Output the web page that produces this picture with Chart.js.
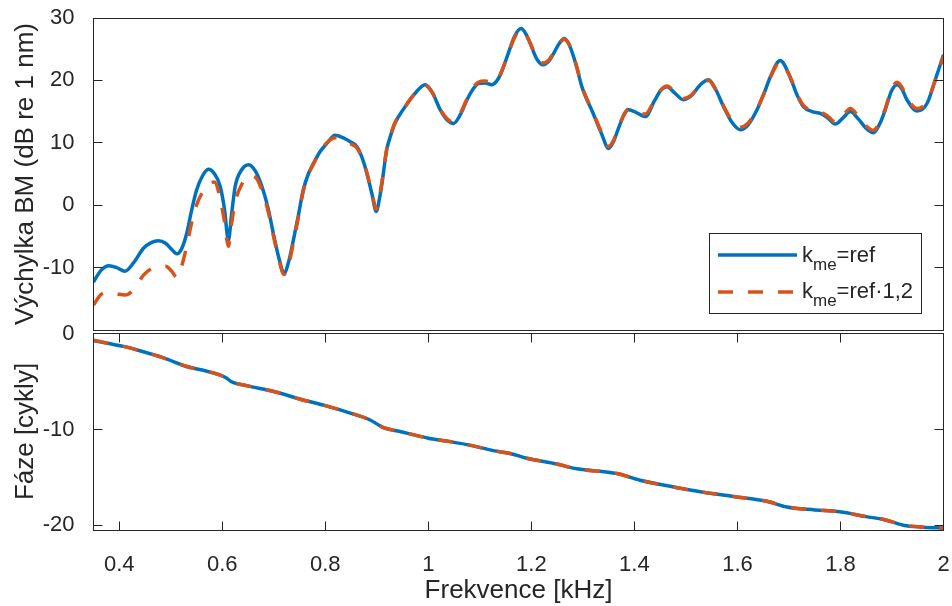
<!DOCTYPE html>
<html>
<head>
<meta charset="utf-8">
<title>Výchylka a fáze BM</title>
<script src="https://cdn.jsdelivr.net/npm/chart.js@4.4.1/dist/chart.umd.min.js"></script>
<style>
  body { margin: 0; background: #fff; }
  #wrap { position: relative; width: 952px; height: 606px; }
  #wrap canvas { position: absolute; left: 0; }
</style>
</head>
<body>
<div id="wrap">
  <canvas id="magChart" width="952" height="332" style="top:0px"></canvas>
  <canvas id="phaseChart" width="952" height="296" style="top:310px"></canvas>
</div>
<script>
// frequency axis [kHz]
const freqMag = [
  0.350, 0.365, 0.380, 0.395, 0.411, 0.428, 0.447, 0.462, 0.476, 0.490,
  0.502, 0.512, 0.521, 0.531, 0.540, 0.550, 0.561, 0.573, 0.585, 0.596,
  0.604, 0.612, 0.618, 0.625, 0.637, 0.651, 0.664, 0.677, 0.689, 0.699,
  0.710, 0.720, 0.729, 0.738, 0.748, 0.757, 0.767, 0.777, 0.790, 0.803,
  0.819, 0.835, 0.850, 0.861, 0.871, 0.880, 0.890, 0.899, 0.905, 0.910,
  0.919, 0.927, 0.935, 0.955, 0.974, 0.994, 1.008, 1.023, 1.036, 1.049,
  1.062, 1.075, 1.086, 1.097, 1.110, 1.123, 1.136, 1.145, 1.155, 1.167,
  1.180, 1.189, 1.198, 1.210, 1.223, 1.233, 1.243, 1.254, 1.264, 1.273,
  1.282, 1.290, 1.298, 1.320, 1.336, 1.350, 1.360, 1.369, 1.380, 1.388,
  1.400, 1.421, 1.440, 1.452, 1.463, 1.478, 1.495, 1.510, 1.528, 1.544,
  1.558, 1.573, 1.590, 1.605, 1.620, 1.638, 1.652, 1.664, 1.683, 1.702,
  1.715, 1.728, 1.745, 1.761, 1.775, 1.790, 1.805, 1.819, 1.835, 1.850,
  1.864, 1.876, 1.887, 1.899, 1.910, 1.920, 1.929, 1.949, 1.968, 1.984,
  2.000
];

// BM displacement [dB re 1 nm], k_me = ref
const magRef = [
  -12.3, -10.4, -9.7, -10.0, -10.6, -9.2, -6.9, -6.0, -5.7, -6.1,
  -7.1, -7.8, -7.0, -4.5, -1.0, 2.4, 4.6, 5.75, 5.0, 3.0,
  -0.5, -5.6, -1.5, 3.0, 5.6, 6.5, 5.5, 3.0, -0.5, -4.5,
  -8.5, -10.9, -9.0, -5.6, -1.5, 2.4, 5.0, 6.7, 8.6, 9.9,
  11.2, 10.8, 10.1, 9.4, 7.7, 5.3, 2.0, -1.0, 1.0, 3.5,
  8.8, 11.2, 13.1, 15.8, 17.9, 19.3, 18.0, 15.3, 13.7, 13.1,
  14.5, 16.9, 18.5, 19.5, 19.6, 19.3, 20.3, 22.0, 24.3, 27.0,
  28.3, 27.5, 25.9, 23.5, 22.5, 23.0, 24.3, 25.9, 26.7, 25.8,
  23.8, 21.5, 19.0, 14.7, 11.5, 9.1, 10.3, 12.3, 14.5, 15.3,
  15.0, 14.2, 16.9, 18.5, 19.0, 18.0, 16.9, 17.5, 19.3, 20.1,
  18.5, 15.8, 13.2, 12.1, 12.8, 15.3, 18.0, 20.6, 23.2, 20.6,
  17.8, 15.8, 15.0, 14.7, 14.0, 13.0, 14.0, 15.0, 13.8, 12.3,
  11.6, 13.0, 15.3, 18.3, 19.3, 18.5, 16.9, 15.1, 16.3, 20.1,
  24.1
];

// BM displacement [dB re 1 nm], k_me = ref*1.2
const magScaled = [
  -16.0, -14.3, -14.0, -14.2, -14.4, -13.5, -11.2, -10.2, -9.8, -9.8,
  -10.6, -11.6, -9.8, -6.5, -3.0, 0.0, 2.0, 3.4, 3.7, 1.0,
  -2.5, -6.6, -3.0, 0.5, 3.2, 4.7, 4.5, 2.4, -1.0, -4.8,
  -8.8, -11.1, -9.5, -6.0, -1.8, 2.2, 4.9, 6.6, 8.6, 10.0,
  10.8, 10.4, 9.8, 9.2, 7.6, 5.4, 2.2, -0.6, 1.3, 3.8,
  8.9, 11.3, 13.2, 15.8, 17.9, 19.2, 18.0, 15.4, 13.9, 13.3,
  14.7, 17.0, 18.7, 19.7, 19.9, 19.7, 20.4, 22.0, 24.2, 26.8,
  28.1, 27.4, 25.9, 23.7, 22.8, 23.2, 24.4, 25.9, 26.6, 25.8,
  23.9, 21.6, 19.1, 14.8, 11.7, 9.4, 10.5, 12.4, 14.6, 15.4,
  15.2, 14.6, 17.0, 18.5, 19.1, 18.2, 17.1, 17.6, 19.3, 20.0,
  18.5, 15.9, 13.5, 12.5, 13.1, 15.4, 18.0, 20.5, 23.0, 20.6,
  17.9, 16.0, 15.2, 14.9, 14.3, 13.3, 14.4, 15.5, 14.2, 12.7,
  12.0, 13.3, 15.5, 18.6, 19.7, 18.8, 17.2, 15.5, 16.6, 20.0,
  23.9
];

// phase [cycles]
const freqPhase = [
  0.350, 0.380, 0.408, 0.440, 0.486, 0.531, 0.570, 0.596, 0.608, 0.618,
  0.647, 0.706, 0.750, 0.800, 0.850, 0.887, 0.913, 0.945, 1.000, 1.036,
  1.087, 1.126, 1.159, 1.191, 1.249, 1.288, 1.366, 1.411, 1.476, 1.528,
  1.592, 1.657, 1.696, 1.750, 1.799, 1.850, 1.884, 1.922, 1.960, 2.000
];
const phaseRef = [
  -0.7, -1.0, -1.3, -1.75, -2.5, -3.4, -3.9, -4.3, -4.6, -5.0,
  -5.4, -6.1, -6.8, -7.5, -8.3, -9.0, -9.8, -10.2, -10.9, -11.2,
  -11.7, -12.2, -12.5, -13.0, -13.6, -14.1, -14.6, -15.3, -16.0, -16.5,
  -17.0, -17.5, -18.1, -18.4, -18.6, -19.1, -19.4, -20.0, -20.2, -20.3
];
const phaseScaled = [
  -0.65, -1.0, -1.3, -1.75, -2.5, -3.4, -3.9, -4.3, -4.65, -5.0,
  -5.4, -6.1, -6.8, -7.5, -8.3, -9.0, -9.8, -10.2, -10.9, -11.2,
  -11.7, -12.2, -12.5, -13.0, -13.6, -14.1, -14.6, -15.3, -16.0, -16.5,
  -17.0, -17.5, -18.1, -18.4, -18.6, -19.1, -19.4, -20.0, -20.2, -20.3
];

const freqTicks = [0.4, 0.6, 0.8, 1, 1.2, 1.4, 1.6, 1.8, 2];
const magTicks = [-10, 0, 10, 20, 30];
const phaseTicks = [-20, -10, 0];

const legendParts = [['k', 'me', '=ref'], ['k', 'me', '=ref\u00b71,2']];

const BLUE = '#0072BD';
const ORANGE = '#D95319';
const AXIS = '#262626';
const TICK_LEN = 9;
const FONT = '"Liberation Sans", Arial, Helvetica, sans-serif';

Chart.defaults.font.family = FONT;
Chart.defaults.color = AXIS;

function pairs(xs, ys) {
  return xs.map((x, i) => ({ x: x, y: ys[i] }));
}

function fixTicks(values) {
  return scale => { scale.ticks = values.map(v => ({ value: v })); };
}

// fixed axis box size, no extra room for overhanging labels
function fixSize(dim, size) {
  return scale => {
    scale[dim] = size;
    scale.paddingTop = scale.paddingBottom = scale.paddingLeft = scale.paddingRight = 0;
  };
}

const crisp = v => Math.floor(v) + 0.5;

// box around the plot area with inward tick marks
function axesFrame(withX) {
  return {
    id: 'axesFrame',
    afterDraw(chart) {
      const { ctx, chartArea: a, scales } = chart;
      const l = crisp(a.left), r = crisp(a.right), t = crisp(a.top), b = crisp(a.bottom);
      ctx.save();
      ctx.strokeStyle = AXIS;
      ctx.lineWidth = 1;
      ctx.strokeRect(l, t, r - l, b - t);
      ctx.beginPath();
      scales.y.ticks.forEach(tk => {
        const py = crisp(scales.y.getPixelForValue(tk.value));
        ctx.moveTo(l, py); ctx.lineTo(l + TICK_LEN, py);
        ctx.moveTo(r, py); ctx.lineTo(r - TICK_LEN, py);
      });
      if (withX) {
        scales.x.ticks.forEach(tk => {
          const px = crisp(scales.x.getPixelForValue(tk.value));
          ctx.moveTo(px, b); ctx.lineTo(px, b - TICK_LEN);
          ctx.moveTo(px, t); ctx.lineTo(px, t + TICK_LEN);
        });
      }
      ctx.stroke();
      ctx.restore();
    }
  };
}

// legend with subscripted labels
const legendBox = {
  id: 'legendBox',
  afterDraw(chart) {
    const { ctx } = chart;
    const bx = 709.5, by = 233.5, bw = 212, bh = 80;
    const rows = [
      { ds: chart.data.datasets[1], y: 255, base: 262, parts: legendParts[0] },
      { ds: chart.data.datasets[0], y: 292, base: 298, parts: legendParts[1] }
    ];
    ctx.save();
    ctx.fillStyle = '#fff';
    ctx.fillRect(bx, by, bw, bh);
    ctx.strokeStyle = AXIS;
    ctx.lineWidth = 1;
    ctx.strokeRect(bx, by, bw, bh);
    rows.forEach(row => {
      ctx.beginPath();
      ctx.strokeStyle = row.ds.borderColor;
      ctx.lineWidth = 3.5;
      ctx.setLineDash(row.ds.borderDash || []);
      ctx.moveTo(718, row.y);
      ctx.lineTo(797, row.y);
      ctx.stroke();
      ctx.setLineDash([]);
      ctx.fillStyle = AXIS;
      ctx.textBaseline = 'alphabetic';
      let x = 802;
      ctx.font = '22px ' + FONT;
      ctx.fillText(row.parts[0], x, row.base);
      x += ctx.measureText(row.parts[0]).width;
      ctx.font = '17px ' + FONT;
      ctx.fillText(row.parts[1], x, row.base + 8);
      x += ctx.measureText(row.parts[1]).width;
      ctx.font = '22px ' + FONT;
      ctx.fillText(row.parts[2], x, row.base);
    });
    ctx.restore();
  }
};

const lineStyle = {
  point: { radius: 0 },
  line: { borderWidth: 3.5, cubicInterpolationMode: 'monotone', borderJoinStyle: 'round' }
};

const yTicks = { padding: 11, font: { size: 22 }, callback: v => String(v) };

new Chart(document.getElementById('magChart'), {
  type: 'line',
  data: {
    datasets: [
      { label: 'kme=ref\u00b71,2', data: pairs(freqMag, magScaled), borderColor: ORANGE, borderDash: [15, 15], order: 0 },
      { label: 'kme=ref', data: pairs(freqMag, magRef), borderColor: BLUE, order: 1 }
    ]
  },
  options: {
    responsive: false,
    animation: false,
    devicePixelRatio: 1,
    elements: lineStyle,
    layout: { padding: { top: 18, right: 8.5, bottom: 2, left: 0 } },
    plugins: { legend: { display: false }, tooltip: { enabled: false } },
    scales: {
      x: { type: 'linear', min: 0.35, max: 2, display: false },
      y: {
        min: -20, max: 30,
        afterFit: fixSize('width', 93.5),
        afterBuildTicks: fixTicks(magTicks),
        grid: { display: false },
        border: { display: false },
        ticks: yTicks,
        title: { display: true, text: 'Výchylka BM (dB re 1 nm)', font: { size: 26 }, padding: { top: 10, bottom: 0 } }
      }
    }
  },
  plugins: [axesFrame(false), legendBox]
});

new Chart(document.getElementById('phaseChart'), {
  type: 'line',
  data: {
    datasets: [
      { label: 'kme=ref\u00b71,2', data: pairs(freqPhase, phaseScaled), borderColor: ORANGE, borderDash: [15, 15], order: 0 },
      { label: 'kme=ref', data: pairs(freqPhase, phaseRef), borderColor: BLUE, order: 1 }
    ]
  },
  options: {
    responsive: false,
    animation: false,
    devicePixelRatio: 1,
    elements: lineStyle,
    layout: { padding: { top: 23, right: 8.5, bottom: 0, left: 0 } },
    plugins: { legend: { display: false }, tooltip: { enabled: false } },
    scales: {
      x: {
        type: 'linear', min: 0.35, max: 2,
        afterFit: fixSize('height', 76),
        afterBuildTicks: fixTicks(freqTicks),
        grid: { display: false },
        border: { display: false },
        ticks: { padding: 14, font: { size: 22 }, maxRotation: 0, autoSkip: false, callback: v => String(v) },
        title: { display: true, text: 'Frekvence [kHz]', font: { size: 26 }, padding: { top: 0, bottom: 0 } }
      },
      y: {
        min: -20.5, max: 0.1,
        afterFit: fixSize('width', 93.5),
        afterBuildTicks: fixTicks(phaseTicks),
        grid: { display: false },
        border: { display: false },
        ticks: yTicks,
        title: { display: true, text: 'Fáze [cykly]', font: { size: 26 }, padding: { top: 10, bottom: 0 } }
      }
    }
  },
  plugins: [axesFrame(true)]
});
</script>
</body>
</html>
